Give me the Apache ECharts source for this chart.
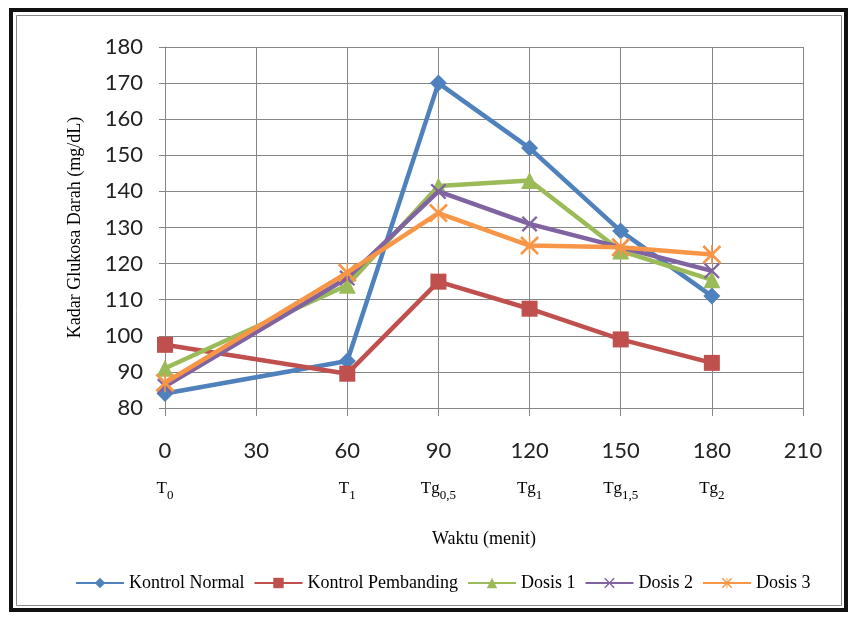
<!DOCTYPE html>
<html>
<head>
<meta charset="utf-8">
<script src="https://cdn.jsdelivr.net/npm/echarts@6/dist/echarts.min.js"></script>
<style>
  html, body { margin: 0; padding: 0; background: #ffffff; }
  #chart { width: 853px; height: 617px; }
</style>
</head>
<body>
<div id="chart"></div>
<script>
// Sampling times (minutes) and blood glucose values (mg/dL) per group
const minutes = [0, 60, 90, 120, 150, 180];
const kontrolNormal = [84, 93, 170, 152, 129, 111];
const kontrolPembanding = [97.5, 89.5, 115, 107.5, 99, 92.5];
const dosis1 = [91, 114, 141.5, 143, 123.5, 115.5];
const dosis2 = [86, 116, 140, 131, 124.5, 118];
const dosis3 = [87, 117.5, 134, 125, 124.5, 122.5];

const seriesNames = ['Kontrol Normal', 'Kontrol Pembanding', 'Dosis 1', 'Dosis 2', 'Dosis 3'];
const seriesColors = ['#4F81BD', '#C0504D', '#9BBB59', '#8064A2', '#F79646'];

// Time-point labels written under the minute ticks: [base, subscript]
const phaseTicks = [0, 60, 90, 120, 150, 180];
const phaseLabels = [['T', '0'], ['T', '1'], ['Tg', '0,5'], ['Tg', '1'], ['Tg', '1,5'], ['Tg', '2']];

const yTicks = { min: 80, max: 180, step: 10 };
const xTicks = { min: 0, max: 210, step: 30 };

const SERIF = '"Liberation Serif", "Times New Roman", serif';
const SANS = 'Lato, "Open Sans", sans-serif';

// Marker outlines for the cross and asterisk series
const crossPath = 'path://M2,0 L10,8 L18,0 L20,2 L12,10 L20,18 L18,20 L10,12 L2,20 L0,18 L8,10 L0,2 Z';
const starPath = crossPath + ' M9.2,0 L10.8,0 L10.8,20 L9.2,20 Z';

const symbols = [
  { symbol: 'diamond', size: 17 },
  { symbol: 'rect', size: 16 },
  { symbol: 'triangle', size: 17 },
  { symbol: crossPath, size: 16 },
  { symbol: starPath, size: 19 }
];

const allData = [kontrolNormal, kontrolPembanding, dosis1, dosis2, dosis3];

const series = allData.map((vals, i) => ({
  name: seriesNames[i],
  type: 'line',
  xAxisIndex: 0,
  data: minutes.map((m, k) => [m, vals[k]]),
  symbol: symbols[i].symbol,
  symbolSize: symbols[i].size,
  lineStyle: { color: seriesColors[i], width: 4.5 },
  itemStyle: { color: seriesColors[i] },
  emphasis: { disabled: true },
  z: 3 + i
}));

const chart = echarts.init(document.getElementById('chart'), null, { renderer: 'canvas' });

chart.setOption({
  animation: false,
  backgroundColor: '#ffffff',
  grid: { left: 165, right: 50, top: 47, bottom: 209, containLabel: false },
  xAxis: [
    {
      type: 'value',
      min: xTicks.min,
      max: xTicks.max,
      interval: xTicks.step,
      name: 'Waktu (menit)',
      nameLocation: 'middle',
      nameGap: 122,
      nameTextStyle: { fontFamily: SERIF, fontSize: 18, color: '#000' },
      axisLine: { show: true, lineStyle: { color: '#868686', width: 1 } },
      axisTick: { show: true, length: 8, lineStyle: { color: '#868686' } },
      axisLabel: { margin: 32, fontFamily: SANS, fontSize: 22, color: '#222' },
      splitLine: { show: true, lineStyle: { color: '#868686', width: 1 } }
    },
    {
      type: 'value',
      position: 'bottom',
      min: xTicks.min,
      max: xTicks.max,
      interval: xTicks.step,
      axisLine: { show: false },
      axisTick: { show: false },
      splitLine: { show: false },
      axisLabel: {
        margin: 67,
        formatter: function (v) {
          const idx = phaseTicks.indexOf(v);
          if (idx < 0) return '';
          return '{b|' + phaseLabels[idx][0] + '}{s|' + phaseLabels[idx][1] + '}';
        },
        rich: {
          b: { fontFamily: SERIF, fontSize: 17, color: '#000', lineHeight: 22 },
          s: { fontFamily: SERIF, fontSize: 13, color: '#000', padding: [14, 0, 0, 0] }
        }
      }
    }
  ],
  yAxis: {
    type: 'value',
    min: yTicks.min,
    max: yTicks.max,
    interval: yTicks.step,
    name: 'Kadar Glukosa Darah (mg/dL)',
    nameLocation: 'middle',
    nameGap: 81,
    nameTextStyle: { fontFamily: SERIF, fontSize: 18, color: '#000' },
    axisLine: { show: true, lineStyle: { color: '#868686', width: 1 } },
    axisTick: { show: true, length: 6, lineStyle: { color: '#868686' } },
    axisLabel: { margin: 22, fontFamily: SANS, fontSize: 22, color: '#222' },
    splitLine: { show: true, lineStyle: { color: '#868686', width: 1 } }
  },
  legend: {
    left: 70,
    top: 569,
    itemWidth: 48,
    itemHeight: 13,
    itemGap: 9,
    data: seriesNames,
    textStyle: { fontFamily: SERIF, fontSize: 18, color: '#000' }
  },
  graphic: [
    { type: 'rect', shape: { x: 11, y: 10, width: 835, height: 600 }, style: { fill: 'none', stroke: '#111', lineWidth: 4 }, z: -1 },
    { type: 'rect', shape: { x: 16.5, y: 15.5, width: 825, height: 590 }, style: { fill: 'none', stroke: '#8a8a8a', lineWidth: 1 }, z: -1 }
  ],
  series: series
});
</script>
</body>
</html>
